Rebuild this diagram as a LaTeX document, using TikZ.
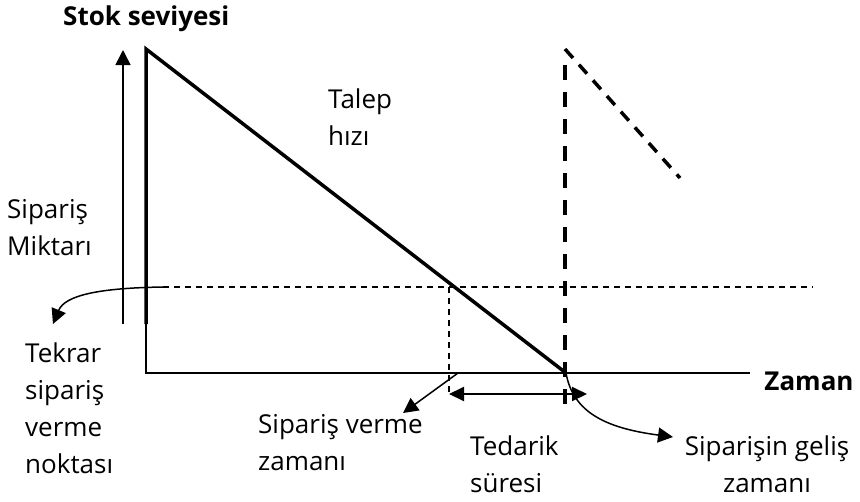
\documentclass[tikz,border=0pt]{standalone}
\usepackage{fontspec}
\setmainfont{Open Sans}
\usetikzlibrary{arrows.meta}
\begin{document}
\begin{tikzpicture}[x=1pt, y=-1pt,
  lbl/.style={anchor=base west, inner sep=0pt, align=left, font=\fontsize{26}{37}\selectfont},
  title/.style={anchor=base west, inner sep=0pt, font=\fontsize{26}{37}\selectfont\bfseries},
  stock/.style={line width=3.5pt, line join=miter},
  axis/.style={line width=2.5pt},
  guide/.style={line width=1.5pt, dash pattern=on 6pt off 5pt},
  next/.style={line width=4pt, dash pattern=on 15pt off 12pt},
  arrow/.style={-{Triangle[length=15pt,width=15pt]}, line width=1.5pt},
  span/.style={{Triangle[length=15pt,width=14pt]}-{Triangle[length=15pt,width=14pt]}, line width=2pt}
]
\useasboundingbox (0,0) rectangle (860,501);

\coordinate (qbot) at (123,324);
\coordinate (qtop) at (123,50);
\coordinate (s0) at (146,324);
\coordinate (smax) at (146,49);
\coordinate (szero) at (566,373);
\coordinate (o) at (146,373);
\coordinate (xend) at (750,373);
\coordinate (rl) at (163,287);
\coordinate (rr) at (813,287);
\coordinate (rop) at (449,287);
\coordinate (ropb) at (449,395);
\coordinate (arrtop) at (565,65);
\coordinate (arrbot) at (565,415);
\coordinate (ntop) at (565,49);
\coordinate (nend) at (680,178);
\coordinate (lta) at (449,394);
\coordinate (ltb) at (587,394);
\coordinate (ordt) at (458,373);
\coordinate (ordtip) at (403,413);
\coordinate (roptip) at (53,324);
\coordinate (arrtip) at (673,437);

\node[title] (ylbl) at (63,25) {Stok seviyesi};
\node[title, anchor=base] (xlbl) at (809,390) {Zaman};
\node[lbl] (rate) at (328,145) {Talep\\hızı};
\node[lbl] (qty) at (7,255) {Sipariş\\Miktarı};
\node[lbl] (reord) at (25,473) {Tekrar\\sipariş\\verme\\noktası};
\node[lbl] (ordtime) at (258,470) {Sipariş verme\\zamanı};
\node[lbl] (lead) at (470,492) {Tedarik\\süresi};
\node[lbl, anchor=base, align=center] (arrive) at (767,492) {Siparişin geliş\\zamanı};

\draw[arrow] (qbot) -- (qtop);
\draw[stock] (s0) -- (smax) -- (szero);
\draw[axis] (s0) -- (o) -- (xend);
\draw[guide] (rl) -- (rr);
\draw[guide] (rop) -- (ropb);
\draw[next] (arrtop) -- (arrbot);
\draw[line width=3.5pt, dash pattern=on 12pt off 9pt] (ntop) -- (nend);
\draw[span] (lta) -- (ltb);
\draw[arrow] (ordt) -- (ordtip);
\draw[arrow] (rl) .. controls (100,288) and (65,295) .. (roptip);
\draw[arrow] (szero) .. controls (573,412) and (605,428) .. (arrtip);
\end{tikzpicture}
\end{document}
